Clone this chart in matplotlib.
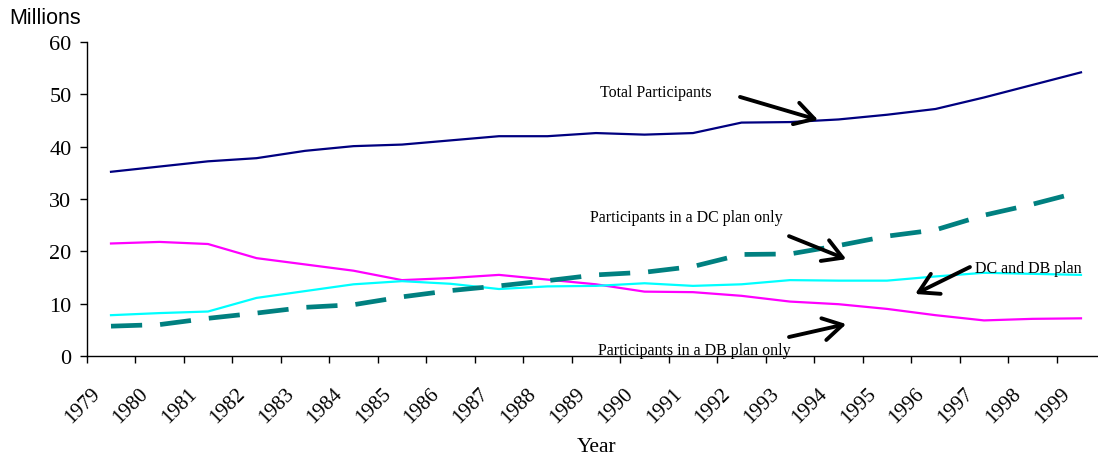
import numpy as np
import matplotlib
matplotlib.use('Agg')
import matplotlib.pyplot as plt
from matplotlib.transforms import ScaledTranslation

years = [str(y) for y in range(1979, 2000)]

total = [35.2, 36.2, 37.2, 37.8, 39.2, 40.1, 40.4, 41.2, 42.0, 42.0, 42.6,
         42.3, 42.6, 44.6, 44.7, 45.2, 46.1, 47.2, 49.4, 51.8, 54.2]
db_only = [21.5, 21.8, 21.4, 18.7, 17.5, 16.3, 14.5, 14.9, 15.5, 14.6, 13.7,
           12.3, 12.2, 11.5, 10.4, 9.9, 9.0, 7.8, 6.8, 7.1, 7.2]
dc_and_db = [7.8, 8.2, 8.5, 11.1, 12.4, 13.7, 14.3, 13.8, 12.8, 13.3, 13.4,
             13.9, 13.4, 13.7, 14.5, 14.4, 14.4, 15.2, 15.9, 15.7, 15.5]
dc_only = [5.7, 6.0, 7.2, 8.2, 9.3, 9.8, 11.3, 12.5, 13.4, 14.4, 15.5,
           16.0, 17.1, 19.4, 19.5, 21.1, 22.9, 24.1, 26.9, 29.0, 31.4]

serif = ['Liberation Serif', 'DejaVu Serif']
sans = ['Liberation Sans', 'DejaVu Sans']

fig = plt.figure(figsize=(10.98, 4.56), dpi=100)
ax = fig.add_axes([0.079, 0.2171, 0.9276, 0.6886])

x = np.arange(len(years))
ax.plot(x, total, color='#000080', lw=1.6)
ax.plot(x, db_only, color='#FF00FF', lw=1.6)
ax.plot(x, dc_and_db, color='#00FFFF', lw=1.6)
ax.plot(x, dc_only, color='#008080', lw=3.4, dashes=(6.6, 3.8))

ax.set_xlim(-0.5, len(years) - 0.5)
ax.set_ylim(0, 60)
ax.set_yticks(range(0, 61, 10))
ax.set_xticks(x)
ax.set_xticks(np.arange(len(years) + 1) - 0.5, minor=True)
ax.set_xticklabels(years, rotation=45, ha='right', va='center',
                   rotation_mode='anchor', fontsize=15, family=serif)
for lab in ax.get_yticklabels():
    lab.set_fontsize(16)
    lab.set_family(serif)
ax.tick_params(axis='x', which='major', length=0, pad=25)
ax.tick_params(axis='x', which='minor', length=5, width=1)
ax.tick_params(axis='y', length=5, width=1, pad=6)
for lab in ax.get_xticklabels():
    lab.set_transform(lab.get_transform() + ScaledTranslation(-0.14, 0, fig.dpi_scale_trans))

for s in ['top', 'right']:
    ax.spines[s].set_visible(False)
for s in ['left', 'bottom']:
    ax.spines[s].set_linewidth(1)

fig.text(0.041, 1 - 18.5 / 456, 'Millions', ha='center', va='center',
         fontsize=15.5, family=sans)
fig.text(0.5437, 1 - 448 / 456, 'Year', ha='center', va='center',
         fontsize=15.5, family=serif)

# labels with arrows
arrow = dict(arrowstyle='->,head_length=0.55,head_width=0.32', lw=2.8,
             color='black', mutation_scale=25, shrinkA=0, shrinkB=0)
ax.text(11.24, 50.4, 'Total Participants', ha='center', va='center',
        fontsize=11.5, family=serif)
ax.annotate('', xy=(14.58, 45.1), xytext=(12.97, 49.5), arrowprops=arrow)
ax.text(11.86, 26.5, 'Participants in a DC plan only', ha='center', va='center',
        fontsize=11.5, family=serif)
ax.annotate('', xy=(15.16, 18.5), xytext=(13.98, 22.9), arrowprops=arrow)
ax.text(18.91, 16.9, 'DC and DB plan', ha='center', va='center',
        fontsize=11.5, family=serif)
ax.annotate('', xy=(16.58, 11.85), xytext=(17.71, 17.0), arrowprops=arrow)
ax.text(12.03, 1.24, 'Participants in a DB plan only', ha='center', va='center',
        fontsize=11.5, family=serif)
ax.annotate('', xy=(15.16, 6.1), xytext=(13.98, 3.63), arrowprops=arrow)

fig.savefig('out.png', dpi=100)
